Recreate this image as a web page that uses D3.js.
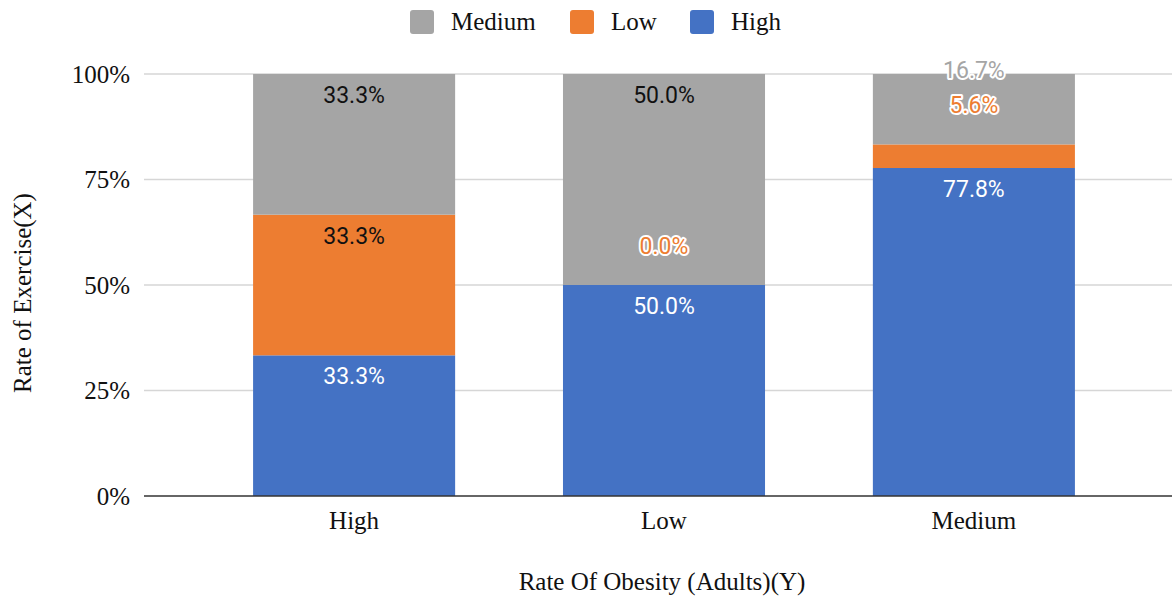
<!DOCTYPE html>
<html>
<head>
<meta charset="utf-8">
<script src="https://cdn.jsdelivr.net/npm/d3@7/dist/d3.min.js"></script>
<style>
  html, body { margin: 0; padding: 0; background: #fff; }
  svg { display: block; }
  .serif { font-family: "Liberation Serif", "Times New Roman", serif; fill: #111; }
  .val { font-family: Roboto, "Liberation Sans", Arial, sans-serif; font-size: 23px; }
</style>
</head>
<body>
<svg id="chart" width="1172" height="598"></svg>
<script>
// Obesity-rate groups along the x axis
const categories = ["High", "Low", "Medium"];
// Exercise-rate series, stacked bottom to top
const seriesNames = ["High", "Low", "Medium"];
const highValues = [33.3, 50.0, 77.8];
const lowValues = [33.3, 0.0, 5.6];
const mediumValues = [33.3, 50.0, 16.7];
const legendOrder = ["Medium", "Low", "High"];
const yTicks = [0, 25, 50, 75, 100];
const colors = { High: "#4472c4", Low: "#ed7d31", Medium: "#a5a5a5" };
const textColors = { High: "#ffffff", Low: "#111111", Medium: "#111111" };

const valuesBySeries = { High: highValues, Low: lowValues, Medium: mediumValues };
const rows = categories.map((c, i) => {
  const r = { category: c };
  seriesNames.forEach(s => r[s] = valuesBySeries[s][i]);
  return r;
});
// Normalise each column to 100% so rounding never leaves a gap at the top
const stack = d3.stack().keys(seriesNames).offset(d3.stackOffsetExpand);
const stacked = stack(rows);

const svg = d3.select("#chart");
const plotLeft = 144, plotRight = 1172, plotTop = 74, plotBottom = 496;
const serifSize = 25;

const x = d3.scaleBand().domain(categories)
  .range([plotLeft, plotLeft + 1040]).paddingInner(0.348).paddingOuter(0.352);
const y = d3.scaleLinear().domain([0, 1]).range([plotBottom, plotTop]);

// Gridlines
svg.append("g").selectAll("line").data(yTicks.filter(t => t > 0)).join("line")
  .attr("x1", plotLeft).attr("x2", plotRight)
  .attr("y1", d => y(d / 100)).attr("y2", d => y(d / 100))
  .attr("stroke", "#d6d6d6").attr("stroke-width", 1.5);

// Y tick labels
const yAxis = d3.axisLeft(y).tickValues(yTicks.map(t => t / 100))
  .tickFormat(d3.format(".0%")).tickSize(0).tickPadding(14);
const yg = svg.append("g").attr("transform", `translate(${plotLeft},0)`).call(yAxis);
yg.select(".domain").remove();
yg.attr("font-family", null).attr("font-size", null);
yg.selectAll("text").attr("class", "serif").attr("font-size", serifSize).attr("dy", "0.33em");

// Bars
const layers = svg.append("g").selectAll("g").data(stacked).join("g")
  .attr("fill", d => colors[d.key]);
layers.selectAll("rect").data(d => d).join("rect")
  .attr("x", d => x(d.data.category))
  .attr("width", x.bandwidth())
  .attr("y", d => y(d[1]))
  .attr("height", d => y(d[0]) - y(d[1]));

// Baseline
svg.append("line").attr("x1", plotLeft).attr("x2", plotRight)
  .attr("y1", plotBottom).attr("y2", plotBottom)
  .attr("stroke", "#333").attr("stroke-width", 1.5);

// X tick labels
const xAxis = d3.axisBottom(x).tickSize(0).tickPadding(15);
const xg = svg.append("g").attr("transform", `translate(0,${plotBottom})`).call(xAxis);
xg.select(".domain").remove();
xg.attr("font-family", null).attr("font-size", null);
xg.selectAll("text").attr("class", "serif").attr("font-size", serifSize);

// Value labels: inside near the top of a segment, or lifted above it with a halo
const labels = [];
categories.forEach((c, ci) => {
  let prev = Infinity;
  stacked.forEach(layer => {
    const seg = layer[ci];
    const v = valuesBySeries[layer.key][ci];
    const y0 = y(seg[0]), y1 = y(seg[1]);
    let base, halo = false;
    if (y0 - y1 < 30) { base = y1 - 31; halo = true; }
    else { base = y1 + 29; }
    if (base > prev - 30) { base = prev - 35; halo = true; }
    prev = base;
    labels.push({ c, key: layer.key, v, base, halo });
  });
});
svg.append("g").selectAll("text").data(labels).join("text")
  .attr("class", "val")
  .attr("x", d => x(d.c) + x.bandwidth() / 2)
  .attr("y", d => d.base)
  .attr("text-anchor", "middle")
  .attr("fill", d => d.halo ? colors[d.key] : textColors[d.key])
  .attr("stroke", d => d.halo ? "#fff" : null)
  .attr("stroke-width", d => d.halo ? 4 : null)
  .attr("stroke-linejoin", "round")
  .attr("paint-order", "stroke")
  .text(d => d3.format(".1f")(d.v) + "%");

// Legend
const legendX = [410, 570, 690];
const lg = svg.append("g").selectAll("g").data(legendOrder).join("g")
  .attr("transform", (d, i) => `translate(${legendX[i]},10)`);
lg.append("rect").attr("width", 24).attr("height", 24).attr("rx", 3)
  .attr("fill", d => colors[d]);
lg.append("text").attr("class", "serif").attr("x", 41).attr("y", 20)
  .attr("font-size", serifSize).text(d => d);

// Axis titles
svg.append("text").attr("class", "serif").attr("font-size", serifSize)
  .attr("text-anchor", "middle")
  .attr("x", 662).attr("y", 590)
  .text("Rate Of Obesity (Adults)(Y)");
svg.append("text").attr("class", "serif").attr("font-size", serifSize)
  .attr("text-anchor", "middle")
  .attr("transform", `translate(31,293) rotate(-90)`)
  .text("Rate of Exercise(X)");
</script>
</body>
</html>
